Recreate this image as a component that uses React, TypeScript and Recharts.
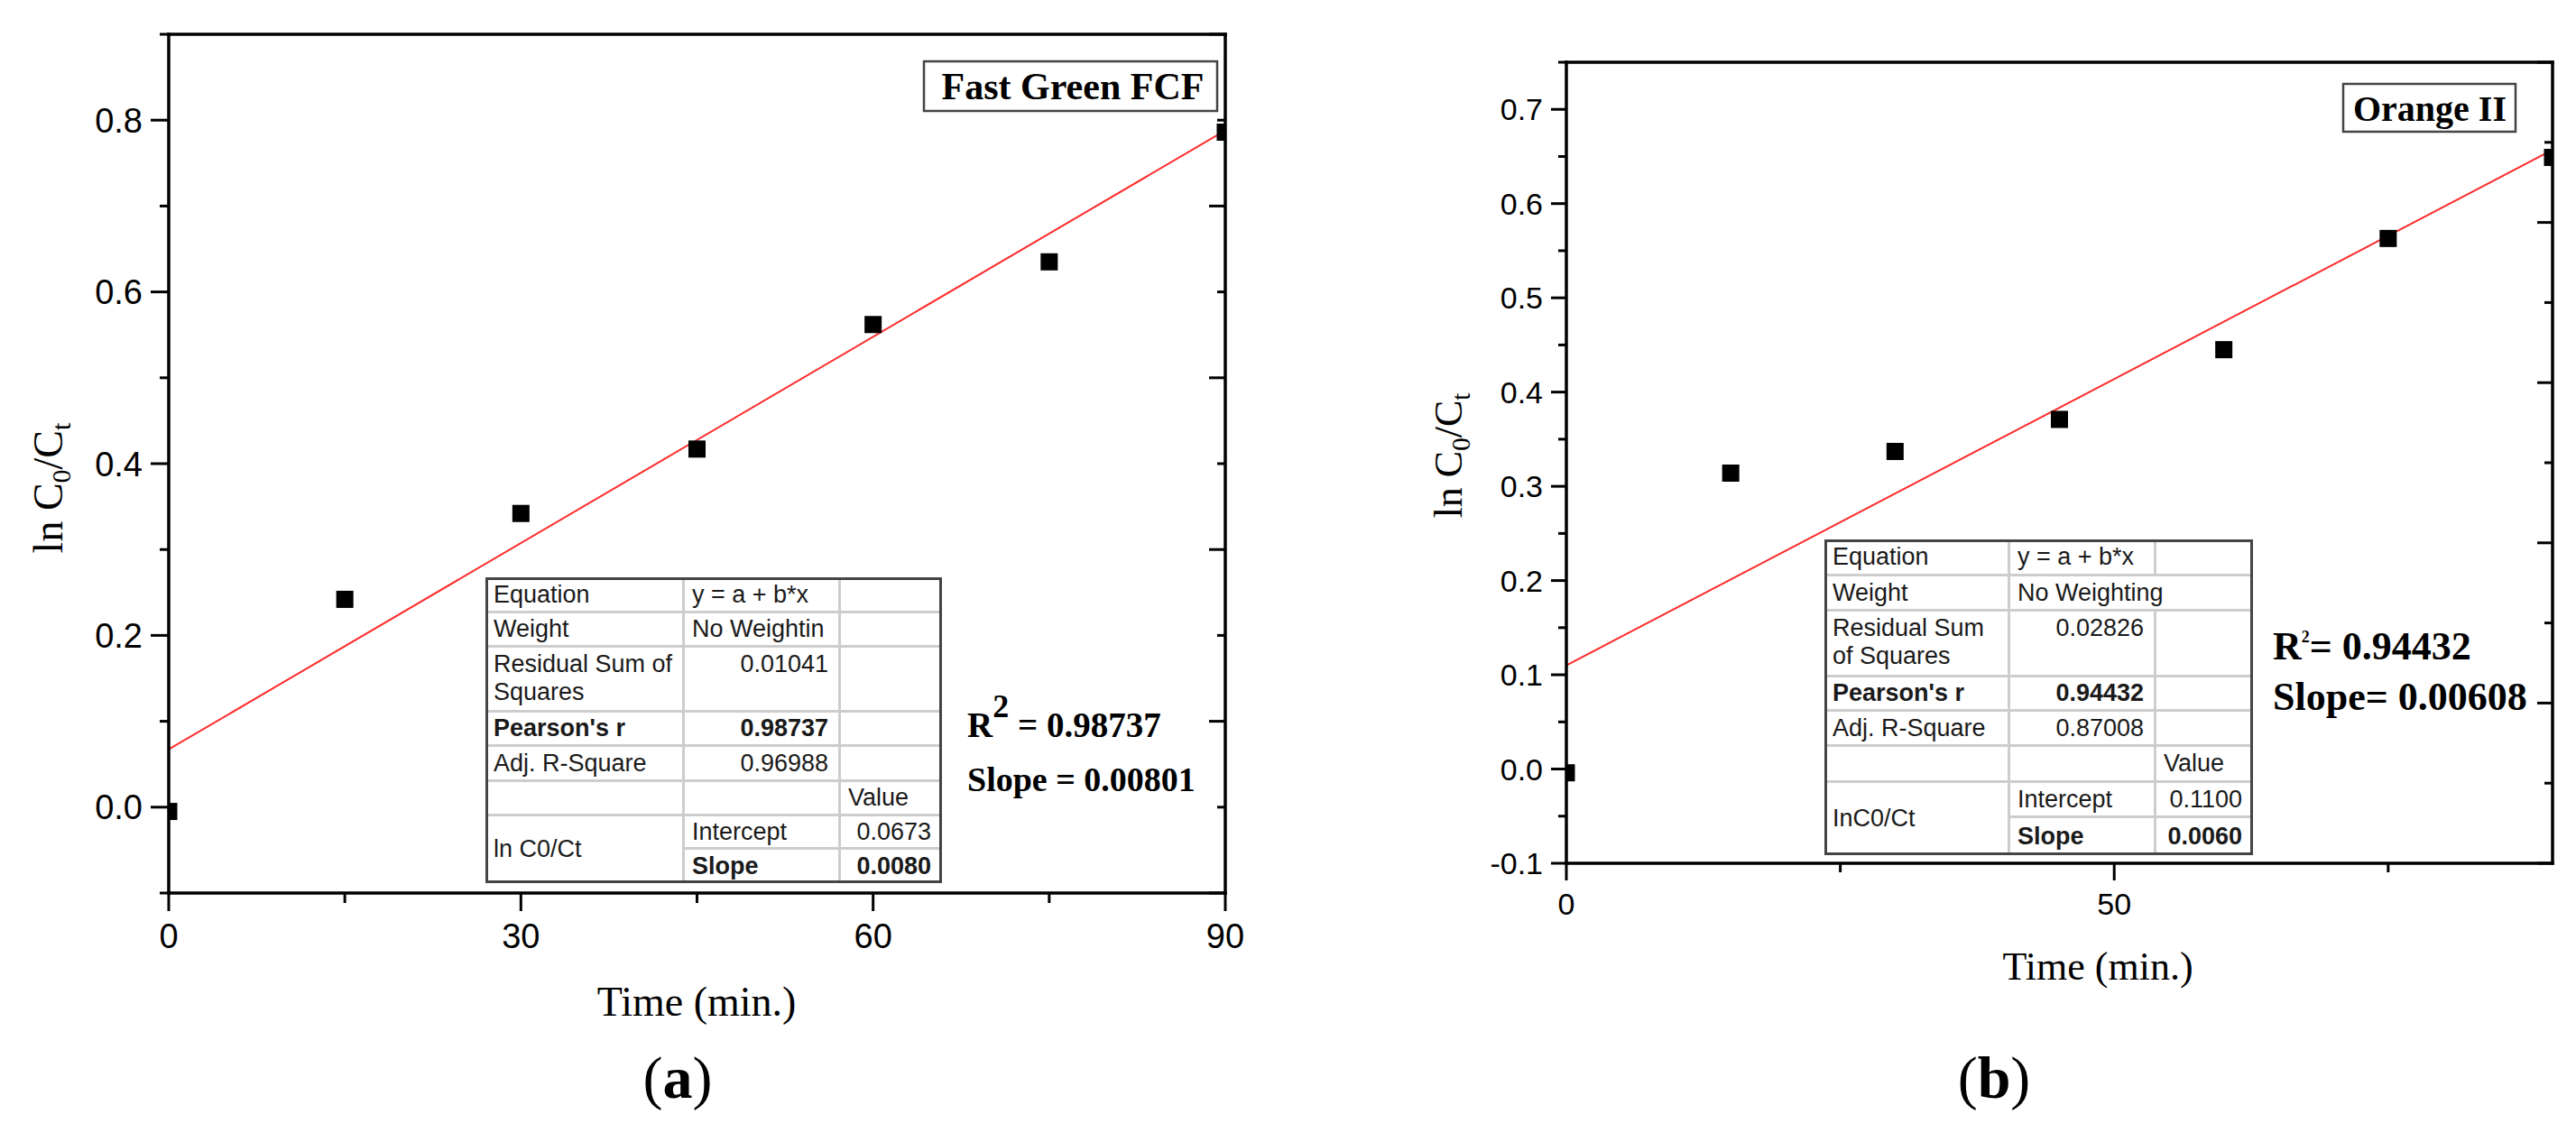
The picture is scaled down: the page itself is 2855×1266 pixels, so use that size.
import React from 'react';
import { ComposedChart, Line, Scatter, XAxis, YAxis } from 'recharts';

const SERIF = '"Liberation Serif", "Times New Roman", serif';
const SANS = '"Liberation Sans", Arial, sans-serif';

// (a) Fast Green FCF
const timeA = [0, 15, 30, 45, 60, 75, 90];
const lnA = [-0.005, 0.242, 0.342, 0.417, 0.562, 0.635, 0.786];
const fitTimeA = [0, 90];
const fitLnA = [0.0673, 0.788];
const xTicksA = [0, 15, 30, 45, 60, 75, 90];
const xLabelsA = [0, 30, 60, 90];
const yTicksA = [-0.1, 0, 0.1, 0.2, 0.3, 0.4, 0.5, 0.6, 0.7, 0.8, 0.9];
const yLabelsA = [0, 0.2, 0.4, 0.6, 0.8];
const topTicksA = [0, 9, 18, 27, 36, 45, 54, 63, 72, 81, 90];
const rightTicksA = [-0.1, 0, 0.1, 0.2, 0.3, 0.4, 0.5, 0.6, 0.7, 0.8, 0.9];

// (b) Orange II
const timeB = [0, 15, 30, 45, 60, 75, 90];
const lnB = [-0.004, 0.314, 0.337, 0.371, 0.445, 0.563, 0.649];
const fitTimeB = [0, 90];
const fitLnB = [0.11, 0.657];
const xTicksB = [0, 25, 50, 75];
const xLabelsB = [0, 50];
const yTicksB = [-0.1, -0.05, 0, 0.05, 0.1, 0.15, 0.2, 0.25, 0.3, 0.35, 0.4, 0.45, 0.5, 0.55, 0.6, 0.65, 0.7, 0.75];
const yLabelsB = [-0.1, 0, 0.1, 0.2, 0.3, 0.4, 0.5, 0.6, 0.7];
const topTicksB = [0, 9, 18, 27, 36, 45, 54, 63, 72, 81, 90];
const rightTicksB = [-0.1, -0.015, 0.07, 0.155, 0.24, 0.325, 0.41, 0.495, 0.58, 0.665, 0.75];

// fit report tables ('^' = merged with cell above, '<' = merged with cell to the left)
const tableA = [
  ['Equation', 'y = a + b*x', ''],
  ['Weight', 'No Weightin', ''],
  ['Residual Sum of\nSquares', '0.01041', ''],
  ["Pearson's r", '0.98737', ''],
  ['Adj. R-Square', '0.96988', ''],
  ['', '', 'Value'],
  ['ln C0/Ct', 'Intercept', '0.0673'],
  ['^', 'Slope', '0.0080'],
];
const tableB = [
  ['Equation', 'y = a + b*x', ''],
  ['Weight', 'No Weighting', '<'],
  ['Residual Sum\nof Squares', '0.02826', ''],
  ["Pearson's r", '0.94432', ''],
  ['Adj. R-Square', '0.87008', ''],
  ['', '', 'Value'],
  ['InC0/Ct', 'Intercept', '0.1100'],
  ['^', 'Slope', '0.0060'],
];

type TickProps = { x: number; y: number; index: number; payload: { value: number } };

const near = (list: number[], v: number) => list.some((m) => Math.abs(m - v) < 1e-6);

function leftTick(labels: number[], major: number, minor: number, fontSize: number) {
  return (p: TickProps) => {
    const v = p.payload.value;
    const isMajor = near(labels, v);
    return (
      <g>
        <line x1={p.x - (isMajor ? major : minor)} x2={p.x} y1={p.y} y2={p.y} stroke="#000" strokeWidth={3} />
        {isMajor && (
          <text x={p.x - major - 9} y={p.y} dy="0.36em" textAnchor="end" fontFamily={SANS} fontSize={fontSize} fill="#000">
            {v.toFixed(1)}
          </text>
        )}
      </g>
    );
  };
}

function bottomTick(labels: number[], major: number, minor: number, fontSize: number, labelDy: number) {
  return (p: TickProps) => {
    const v = p.payload.value;
    const isMajor = near(labels, v);
    return (
      <g>
        <line x1={p.x} x2={p.x} y1={p.y} y2={p.y + (isMajor ? major : minor)} stroke="#000" strokeWidth={3} />
        {isMajor && (
          <text x={p.x} y={p.y + labelDy} textAnchor="middle" fontFamily={SANS} fontSize={fontSize} fill="#000">
            {String(v)}
          </text>
        )}
      </g>
    );
  };
}

function frameTick(side: 'top' | 'right', major: number, minor: number) {
  return (p: TickProps) => {
    const len = p.index % 2 === 0 ? major : minor;
    if (side === 'top') {
      return <line x1={p.x} x2={p.x} y1={p.y} y2={p.y + len} stroke="#000" strokeWidth={3} />;
    }
    return <line x1={p.x - len} x2={p.x} y1={p.y} y2={p.y} stroke="#000" strokeWidth={3} />;
  };
}

interface PanelProps {
  left: number;
  width: number;
  margin: { top: number; right: number; bottom: number; left: number };
  time: number[];
  ln: number[];
  fitTime: number[];
  fitLn: number[];
  xDomain: [number, number];
  yDomain: [number, number];
  xTicks: number[];
  xLabels: number[];
  yTicks: number[];
  yLabels: number[];
  topTicks: number[];
  rightTicks: number[];
  fontSize: number;
  labelDy: number;
  yLen: [number, number];
  xLen: [number, number];
  frameLen: [number, number];
}

function Panel(props: PanelProps) {
  const points = props.time.map((t, i) => ({ t, v: props.ln[i] }));
  const fit = props.fitTime.map((t, i) => ({ t, v: props.fitLn[i] }));
  const axisLine = { stroke: '#000', strokeWidth: 3.5, strokeLinecap: 'square' as const };
  const size = 19;

  return (
    <div style={{ position: 'absolute', left: props.left, top: 0 }}>
      <ComposedChart width={props.width} height={1266} margin={props.margin}>
        <XAxis
          type="number"
          dataKey="t"
          domain={props.xDomain}
          ticks={props.xTicks}
          interval={0}
          allowDataOverflow
          height={60}
          tickSize={0}
          tickMargin={0}
          tickLine={false}
          axisLine={axisLine}
          tick={bottomTick(props.xLabels, props.xLen[0], props.xLen[1], props.fontSize, props.labelDy)}
        />
        <XAxis
          xAxisId="top"
          orientation="top"
          type="number"
          domain={props.xDomain}
          ticks={props.topTicks}
          interval={0}
          allowDataOverflow
          height={1}
          tickSize={0}
          tickMargin={0}
          tickLine={false}
          axisLine={axisLine}
          tick={frameTick('top', props.frameLen[0], props.frameLen[1])}
        />
        <YAxis
          type="number"
          dataKey="v"
          domain={props.yDomain}
          ticks={props.yTicks}
          interval={0}
          allowDataOverflow
          width={150}
          tickSize={0}
          tickMargin={0}
          tickLine={false}
          axisLine={axisLine}
          tick={leftTick(props.yLabels, props.yLen[0], props.yLen[1], props.fontSize)}
        />
        <YAxis
          yAxisId="right"
          orientation="right"
          type="number"
          domain={props.yDomain}
          ticks={props.rightTicks}
          interval={0}
          allowDataOverflow
          width={1}
          tickSize={0}
          tickMargin={0}
          tickLine={false}
          axisLine={axisLine}
          tick={frameTick('right', props.frameLen[0], props.frameLen[1])}
        />
        <Line
          data={fit}
          dataKey="v"
          type="linear"
          stroke="#ff2b2b"
          strokeWidth={2}
          dot={false}
          activeDot={false}
          isAnimationActive={false}
        />
        <Scatter
          data={points}
          dataKey="v"
          isAnimationActive={false}
          shape={(p: any) => <rect x={p.cx - size / 2} y={p.cy - size / 2} width={size} height={size} fill="#000" />}
        />
      </ComposedChart>
    </div>
  );
}

function FitTable({ rows, left, top, cols, heights }: { rows: string[][]; left: number; top: number; cols: number[]; heights: number[] }) {
  const xs = cols.reduce<number[]>((acc, w) => [...acc, acc[acc.length - 1] + w], [0]);
  const ys = heights.reduce<number[]>((acc, h) => [...acc, acc[acc.length - 1] + h], [0]);
  const W = xs[xs.length - 1];
  const H = ys[ys.length - 1];
  const cells: React.ReactNode[] = [];

  rows.forEach((row, r) => {
    const bold = row[0] === "Pearson's r" || row[1] === 'Slope';
    row.forEach((text, c) => {
      if (text === '^' || text === '<') return;
      let cs = 1;
      while (c + cs < row.length && row[c + cs] === '<') cs++;
      let rs = 1;
      while (r + rs < rows.length && rows[r + rs][c] === '^') rs++;
      const x = xs[c];
      const y = ys[r];
      const w = xs[c + cs] - x;
      const h = ys[r + rs] - y;
      const numeric = /^-?\d*\.\d+$/.test(text);
      const tall = rs === 1 && h > 60;
      cells.push(
        <div
          key={`${r}-${c}`}
          style={{
            position: 'absolute',
            left: x,
            top: y,
            width: w,
            height: h,
            boxSizing: 'border-box',
            borderRight: c + cs < cols.length ? '3px solid #cdcdcd' : 'none',
            borderBottom: r + rs < heights.length ? '3px solid #cdcdcd' : 'none',
            display: 'flex',
            alignItems: tall ? 'flex-start' : 'center',
            justifyContent: numeric ? 'flex-end' : 'flex-start',
            padding: numeric ? '0 11px 0 6px' : '0 6px 0 8px',
            paddingTop: tall ? 3 : 0,
            fontFamily: SANS,
            fontSize: 27,
            lineHeight: '31px',
            fontWeight: bold ? 700 : 400,
            color: '#1a1a1a',
            whiteSpace: 'pre',
          }}
        >
          {text}
        </div>
      );
    });
  });

  return (
    <div style={{ position: 'absolute', left, top, width: W, height: H, background: '#fff' }}>
      {cells}
      <div
        style={{
          position: 'absolute',
          left: -1,
          top: -1,
          width: W + 2,
          height: H + 2,
          boxSizing: 'border-box',
          border: '3px solid #444',
        }}
      />
    </div>
  );
}

export default function App() {
  return (
    <div style={{ position: 'absolute', left: 0, top: 0, width: 2855, height: 1266, background: '#fff', overflow: 'hidden' }}>
      <Panel
        left={0}
        width={1420}
        margin={{ top: 37, right: 61, bottom: 216, left: 37 }}
        time={timeA}
        ln={lnA}
        fitTime={fitTimeA}
        fitLn={fitLnA}
        xDomain={[0, 90]}
        yDomain={[-0.1, 0.9]}
        xTicks={xTicksA}
        xLabels={xLabelsA}
        yTicks={yTicksA}
        yLabels={yLabelsA}
        topTicks={topTicksA}
        rightTicks={rightTicksA}
        fontSize={38}
        labelDy={61}
        yLen={[20, 10]}
        xLen={[20, 11]}
        frameLen={[18, 9]}
      />
      <Panel
        left={1420}
        width={1435}
        margin={{ top: 68, right: 25, bottom: 249, left: 166 }}
        time={timeB}
        ln={lnB}
        fitTime={fitTimeB}
        fitLn={fitLnB}
        xDomain={[0, 90]}
        yDomain={[-0.1, 0.75]}
        xTicks={xTicksB}
        xLabels={xLabelsB}
        yTicks={yTicksB}
        yLabels={yLabelsB}
        topTicks={topTicksB}
        rightTicks={rightTicksB}
        fontSize={34}
        labelDy={57}
        yLen={[17, 9]}
        xLen={[19, 10]}
        frameLen={[17, 9]}
      />

      <svg width={2855} height={1266} style={{ position: 'absolute', left: 0, top: 0, pointerEvents: 'none' }}>
        {/* panel (a) */}
        <text x={772} y={1126} textAnchor="middle" fontFamily={SERIF} fontSize={46}>Time (min.)</text>
        <text transform="translate(69,541) rotate(-90)" textAnchor="middle" fontFamily={SERIF} fontSize={46}>
          ln C<tspan fontSize={30} dy={9}>0</tspan>
          <tspan dy={-9}>/C</tspan>
          <tspan fontSize={30} dy={9}>t</tspan>
        </text>
        <text x={751} y={1217} textAnchor="middle" fontFamily={SERIF} fontSize={66}>
          (<tspan fontWeight="bold">a</tspan>)
        </text>
        <rect x={1024} y={68} width={325} height={55} fill="#fff" stroke="#444" strokeWidth={2.5} />
        <text x={1189} y={110} textAnchor="middle" fontFamily={SERIF} fontWeight="bold" fontSize={42}>Fast Green FCF</text>
        <text x={1072} y={817} fontFamily={SERIF} fontWeight="bold" fontSize={39}>
          R<tspan fontSize={36} dy={-22}>2</tspan>
          <tspan dy={22}> = 0.98737</tspan>
        </text>
        <text x={1072} y={877} fontFamily={SERIF} fontWeight="bold" fontSize={38}>Slope = 0.00801</text>

        {/* panel (b) */}
        <text x={2325} y={1086} textAnchor="middle" fontFamily={SERIF} fontSize={44}>Time (min.)</text>
        <text transform="translate(1620,505) rotate(-90)" textAnchor="middle" fontFamily={SERIF} fontSize={44}>
          ln C<tspan fontSize={29} dy={9}>0</tspan>
          <tspan dy={-9}>/C</tspan>
          <tspan fontSize={29} dy={9}>t</tspan>
        </text>
        <text x={2210} y={1217} textAnchor="middle" fontFamily={SERIF} fontSize={66}>
          (<tspan fontWeight="bold">b</tspan>)
        </text>
        <rect x={2597} y={93} width={191} height={53} fill="#fff" stroke="#444" strokeWidth={2.5} />
        <text x={2693} y={134} textAnchor="middle" fontFamily={SERIF} fontWeight="bold" fontSize={40}>Orange II</text>
        <text x={2519} y={731} fontFamily={SERIF} fontWeight="bold" fontSize={44}>
          R<tspan fontSize={18} dy={-19}>2</tspan>
          <tspan dy={19}>= 0.94432</tspan>
        </text>
        <text x={2519} y={787} fontFamily={SERIF} fontWeight="bold" fontSize={44}>Slope= 0.00608</text>
      </svg>

      <FitTable rows={tableA} left={539} top={641} cols={[220, 173, 111]} heights={[39, 38, 72, 38, 39, 38, 37, 36]} />
      <FitTable rows={tableB} left={2023} top={599} cols={[205, 162, 106]} heights={[40, 39, 73, 38, 39, 40, 39, 40]} />
    </div>
  );
}
